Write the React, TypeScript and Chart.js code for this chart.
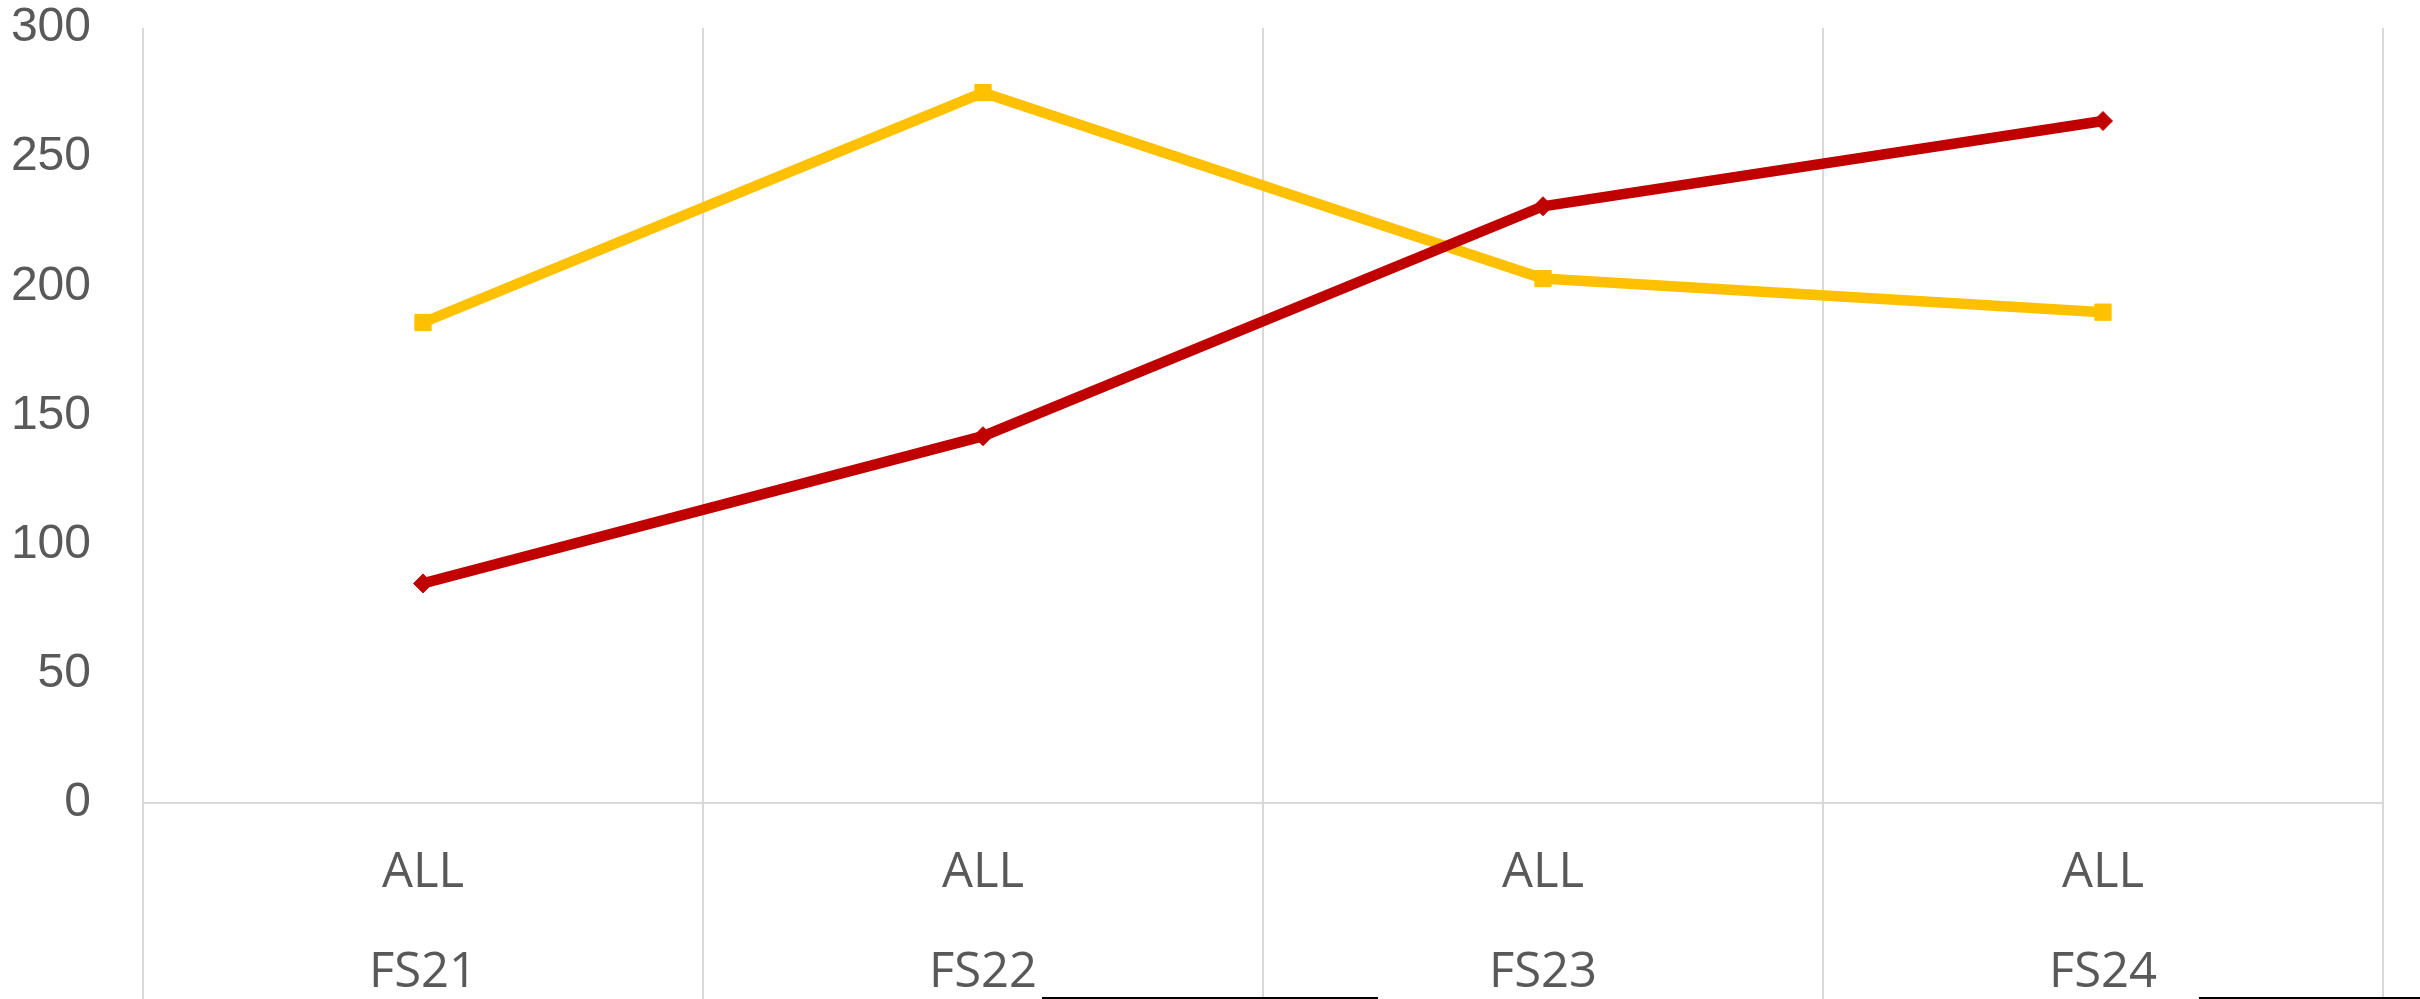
import React, { useEffect, useRef } from "react";
import { Chart, registerables } from "chart.js";

Chart.register(...registerables);

// ---- data ----
const categoryTop = ["ALL", "ALL", "ALL", "ALL"];
const categoryBottom = ["FS21", "FS22", "FS23", "FS24"];
const redValues = [85, 142, 231, 264];
const yellowValues = [186, 275, 203, 190];
const yMin = 0;
const yMax = 300;
const yStep = 50;

const W = 2420;
const H = 999;

export default function App() {
  const ref = useRef<HTMLCanvasElement | null>(null);

  useEffect(() => {
    const canvas = ref.current;
    if (!canvas) return;
    const labels = categoryTop.map((t, i) => [t, categoryBottom[i]]);
    const chart = new Chart(canvas, {
      type: "line",
      data: {
        labels,
        datasets: [
          {
            label: "Series 1",
            data: redValues,
            borderColor: "#C00000",
            backgroundColor: "#C00000",
            borderWidth: 10.5,
            tension: 0,
            pointStyle: "rectRot",
            pointRadius: 9.5,
            pointBorderWidth: 1,
            pointBackgroundColor: "#C00000",
            pointBorderColor: "#C00000",
            fill: false,
          },
          {
            label: "Series 2",
            data: yellowValues,
            borderColor: "#FFC000",
            backgroundColor: "#FFC000",
            borderWidth: 10.5,
            tension: 0,
            pointStyle: "rect",
            pointRadius: 11.5,
            pointBorderWidth: 1,
            pointBackgroundColor: "#FFC000",
            pointBorderColor: "#FFC000",
            fill: false,
          },
        ],
      },
      options: {
        responsive: false,
        animation: false,
        events: [],
        layout: { padding: { top: 28, right: 37, bottom: 0, left: 0 } },
        plugins: {
          legend: { display: false },
          title: { display: false },
          tooltip: { enabled: false },
        },
        scales: {
          x: {
            type: "category",
            offset: true,
            grid: {
              display: true,
              offset: true,
              drawOnChartArea: true,
              drawTicks: true,
              tickLength: 196,
              color: "#d9d9d9",
              lineWidth: 2,
            },
            border: { display: true, color: "#d9d9d9", width: 2 },
            ticks: {
              padding: -176,
              maxRotation: 0,
              minRotation: 0,
              autoSkip: false,
              color: "#595959",
              font: { family: "'Open Sans'", size: 49, weight: "400", lineHeight: "100px" as any },
            },
            afterFit: (scale: any) => {
              scale.height = 196;
              scale.paddingTop = 0;
              scale.paddingBottom = 0;
            },
          },
          y: {
            min: yMin,
            max: yMax,
            grid: { display: false, drawTicks: false },
            border: { display: false },
            ticks: {
              stepSize: yStep,
              padding: 52,
              color: "#595959",
              font: { family: "'Liberation Sans', Arial, sans-serif", size: 48 },
            },
            afterFit: (scale: any) => {
              scale.width = 143;
              scale.paddingTop = 0;
              scale.paddingBottom = 0;
            },
          },
        },
      },
    });
    return () => chart.destroy();
  }, []);

  return (
    <div style={{ position: "fixed", left: 0, top: 0, width: W, height: H, background: "#fff", overflow: "hidden" }}>
      <canvas ref={ref} width={W} height={H} style={{ display: "block", width: W, height: H }} />
      <div style={{ position: "absolute", left: 1042, top: 997, width: 336, height: 2, background: "#000" }} />
      <div style={{ position: "absolute", left: 2199, top: 997, width: 221, height: 2, background: "#000" }} />
    </div>
  );
}
